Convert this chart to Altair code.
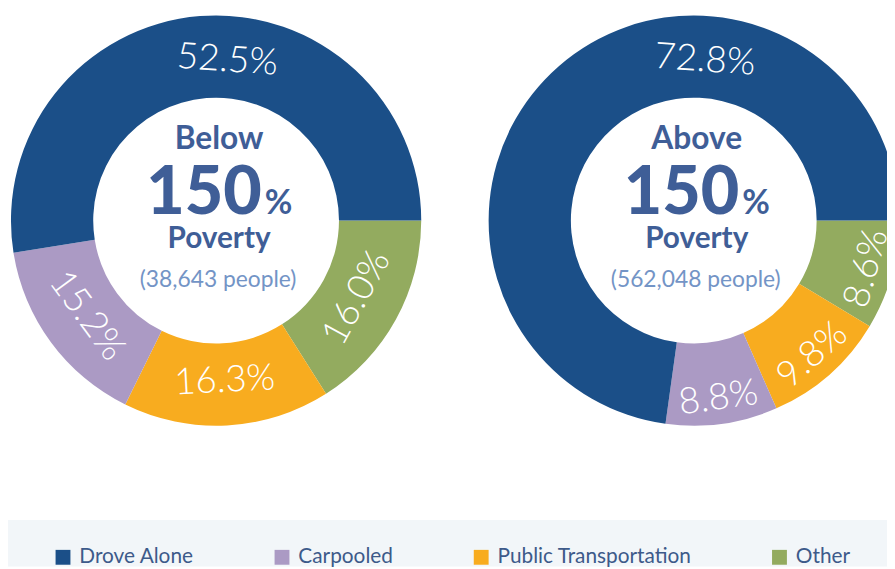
import math
import altair as alt
import pandas as pd

# ---- data ----
groups = ["Below", "Above"]
categories = ["Drove Alone", "Carpooled", "Public Transportation", "Other"]
below_values = [52.5, 15.2, 16.3, 16.0]
above_values = [72.8, 8.8, 9.8, 8.6]
people = ["(38,643 people)", "(562,048 people)"]
colors = ["#1B4F88", "#AB9AC4", "#F8AC1F", "#93AB5F"]

# slices are laid clockwise from 3 o'clock in this order
draw_order = ["Other", "Public Transportation", "Carpooled", "Drove Alone"]
TOP_LABEL_DEG = 4  # the big slice's label sits at the top of the ring

rows = []
for g, vals in zip(groups, [below_values, above_values]):
    lookup = dict(zip(categories, vals))
    cum = 0.0
    for c in draw_order:
        v = lookup[c]
        start, end = cum, cum + v
        cum = end
        lab = 75 + TOP_LABEL_DEG / 3.6 if c == "Drove Alone" else (start + end) / 2
        a = (90 + lab * 3.6) % 360
        rot = a - 180 if 90 < a < 270 else a
        rows.append(dict(group=g, category=c, value=v, start=start, end=end,
                         label_at=lab, rot=rot % 360, label=f"{v:.1f}%",
                         outer=bool(g == "Above" and c != "Drove Alone")))
df = pd.DataFrame(rows)

center_df = pd.DataFrame({
    "group": groups,
    "line1": ["Below", "Above"],
    "big": ["150", "150"],
    "pct": ["%", "%"],
    "line3": ["Poverty", "Poverty"],
    "people": people,
})

FONT = "Lato"
TEXT_BLUE = "#3F5E97"
CY = 212

x_scale = alt.Scale(type="point", domain=groups, range=[210, 692], padding=0)
theta_scale = alt.Scale(domain=[0, 100], range=[math.pi / 2, math.pi / 2 + 2 * math.pi])
X = alt.X("group:N", scale=x_scale, axis=None)

band = alt.Chart(pd.DataFrame({"a": [0]})).mark_rect(color="#F2F6F9").encode(
    x=alt.value(0), x2=alt.value(887), y=alt.value(514), y2=alt.value(561)
)

arcs = alt.Chart(df).mark_arc(outerRadius=207, innerRadius=124).encode(
    x=X,
    y=alt.value(CY),
    theta=alt.Theta("start:Q", scale=theta_scale),
    theta2="end:Q",
    color=alt.Color(
        "category:N",
        scale=alt.Scale(domain=categories, range=colors),
        legend=alt.Legend(
            title=None, orient="none", legendX=45, legendY=541,
            direction="horizontal", symbolType="square", symbolSize=225,
            symbolStrokeWidth=0, labelFont=FONT, labelFontSize=21,
            labelColor="#3D5A8A", labelOffset=6, columnPadding=78,
            labelLimit=400,
        ),
    ),
)

def pct_labels(filter_expr, radius):
    return alt.Chart(df).transform_filter(filter_expr).mark_text(
        radius=radius, font=FONT, fontSize=37, fontWeight=300, color="white",
        align="center", baseline="middle",
    ).encode(
        x=X,
        y=alt.value(CY),
        theta=alt.Theta("label_at:Q", scale=theta_scale),
        text="label:N",
        angle=alt.Angle("rot:Q", scale=None),
    )

labels_in = pct_labels("!datum.outer", 162)
labels_out = pct_labels("datum.outer", 181)

def center_text(field, size, weight, color, dy, dx=0, align="center"):
    return alt.Chart(center_df).mark_text(
        font=FONT, fontSize=size, fontWeight=weight, color=color,
        align=align, baseline="alphabetic", dy=dy, dx=dx,
    ).encode(x=X, y=alt.value(CY), text=f"{field}:N")

t1 = center_text("line1", 32, "bold", TEXT_BLUE, -72, 3)
t2 = center_text("big", 67, 900, TEXT_BLUE, -7, 46, "right")
t2b = center_text("pct", 34, "bold", TEXT_BLUE, -7, 49, "left")
t3 = center_text("line3", 30, "bold", TEXT_BLUE, 28, 3)
t4 = center_text("people", 23, "normal", "#7394C6", 67, 2)

chart = alt.layer(band, arcs, labels_in, labels_out, t1, t2, t2b, t3, t4).properties(
    width=887, height=561,
    autosize=alt.AutoSizeParams(type="none"),
    padding=0,
).configure_view(strokeWidth=0)

chart.save("out.html", embed_options={"renderer": "svg", "actions": False})
